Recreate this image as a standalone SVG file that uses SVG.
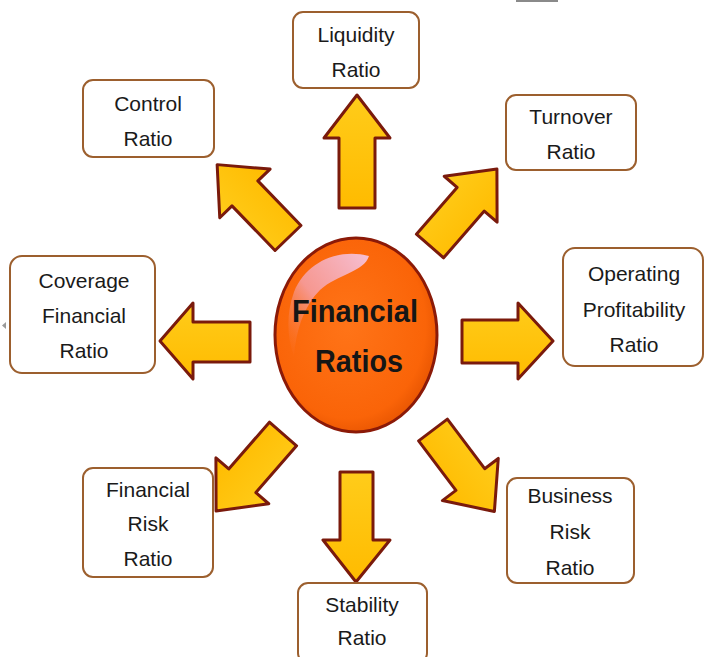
<svg xmlns="http://www.w3.org/2000/svg" xmlns:xlink="http://www.w3.org/1999/xlink" width="704" height="657" viewBox="0 0 704 657">
  <style>
    .box { fill: #ffffff; stroke: #9c5f2e; stroke-width: 2; }
    .lbl { font-family: "Liberation Sans", Arial, sans-serif; font-size: 21px; fill: #1a1a1a; text-anchor: middle; }
    .arrow { fill: url(#yel); stroke: #7a1a0c; stroke-width: 3; stroke-linejoin: round; }
    .title { font-family: "Liberation Sans", Arial, sans-serif; font-weight: bold; font-size: 32px; fill: #161616; text-anchor: middle; }
  </style>
  <defs>
    <linearGradient id="yel" x1="0" y1="0" x2="0" y2="1">
      <stop offset="0" stop-color="#ffcc1a"/>
      <stop offset="1" stop-color="#ffbb00"/>
    </linearGradient>
    <radialGradient id="org" cx="0.45" cy="0.45" r="0.6">
      <stop offset="0" stop-color="#ff7418"/>
      <stop offset="0.8" stop-color="#fa6408"/>
      <stop offset="1" stop-color="#e45200"/>
    </radialGradient>
    <linearGradient id="hl" x1="1" y1="0" x2="0" y2="1">
      <stop offset="0" stop-color="#f6c0d4"/>
      <stop offset="0.55" stop-color="#f5a0a8" stop-opacity="0.85"/>
      <stop offset="1" stop-color="#fa7a3a" stop-opacity="0"/>
    </linearGradient>
    <path id="diag" d="M0,-18 L62,-18 L62,-35 L102,0 L62,35 L62,18 L0,18 Z"/>
  </defs>

  <rect x="0" y="0" width="704" height="657" fill="#ffffff"/>
  <rect x="516" y="0" width="42" height="2" fill="#8a8a8a"/>
  <polygon points="6,322 6,329 2,325.5" fill="#9a9a9a"/>

  <g id="connectors">
    <path class="arrow" d="M339,208 L339,138 L324,138 L357,95 L390,138 L375,138 L375,208 Z"/>
    <path class="arrow" d="M340,472 L373,472 L373,540 L390,540 L356,582 L323,540 L340,540 Z"/>
    <path class="arrow" d="M462,320 L518,320 L518,303 L553,341 L518,379 L518,363 L462,363 Z"/>
    <path class="arrow" d="M250,322 L193,322 L193,303 L160,341 L193,379 L193,362 L250,362 Z"/>
    <use href="#diag" class="arrow" transform="translate(288,238) rotate(-134)"/>
    <use href="#diag" class="arrow" transform="translate(430,246) rotate(-49)"/>
    <use href="#diag" class="arrow" transform="translate(283,434) rotate(131)"/>
    <use href="#diag" class="arrow" transform="translate(433,430) rotate(53)"/>
  </g>

  <g id="center">
    <ellipse cx="356" cy="335" rx="81" ry="97" fill="url(#org)" stroke="#8b1a08" stroke-width="3"/>
    <path d="M369,256 C338,248 306,262 294,292 C286,314 287,338 294,356 C296,330 304,306 320,290 C338,274 364,272 369,256 Z" fill="url(#hl)"/>
    <text class="title" x="355" y="322" textLength="126" lengthAdjust="spacingAndGlyphs">Financial</text>
    <text class="title" x="359" y="372" textLength="88" lengthAdjust="spacingAndGlyphs">Ratios</text>
  </g>

  <g id="liquidity">
    <rect class="box" x="293" y="12" width="126" height="76" rx="10"/>
    <text class="lbl" x="356" y="42">Liquidity</text>
    <text class="lbl" x="356" y="77">Ratio</text>
  </g>

  <g id="control">
    <rect class="box" x="83" y="80" width="131" height="77" rx="10"/>
    <text class="lbl" x="148" y="111">Control</text>
    <text class="lbl" x="148" y="146">Ratio</text>
  </g>

  <g id="turnover">
    <rect class="box" x="506" y="95" width="130" height="75" rx="10"/>
    <text class="lbl" x="571" y="124">Turnover</text>
    <text class="lbl" x="571" y="159">Ratio</text>
  </g>

  <g id="coverage">
    <rect class="box" x="10" y="256" width="145" height="117" rx="12"/>
    <text class="lbl" x="84" y="288">Coverage</text>
    <text class="lbl" x="84" y="323">Financial</text>
    <text class="lbl" x="84" y="358">Ratio</text>
  </g>

  <g id="operating">
    <rect class="box" x="563" y="248" width="140" height="118" rx="12"/>
    <text class="lbl" x="634" y="281">Operating</text>
    <text class="lbl" x="634" y="317">Profitability</text>
    <text class="lbl" x="634" y="352">Ratio</text>
  </g>

  <g id="financial-risk">
    <rect class="box" x="83" y="468" width="130" height="109" rx="10"/>
    <text class="lbl" x="148" y="497">Financial</text>
    <text class="lbl" x="148" y="531">Risk</text>
    <text class="lbl" x="148" y="566">Ratio</text>
  </g>

  <g id="business-risk">
    <rect class="box" x="507" y="478" width="127" height="105" rx="10"/>
    <text class="lbl" x="570" y="503">Business</text>
    <text class="lbl" x="570" y="539">Risk</text>
    <text class="lbl" x="570" y="575">Ratio</text>
  </g>

  <g id="stability">
    <rect class="box" x="298" y="583" width="129" height="80" rx="10"/>
    <text class="lbl" x="362" y="612">Stability</text>
    <text class="lbl" x="362" y="645">Ratio</text>
  </g>
</svg>
